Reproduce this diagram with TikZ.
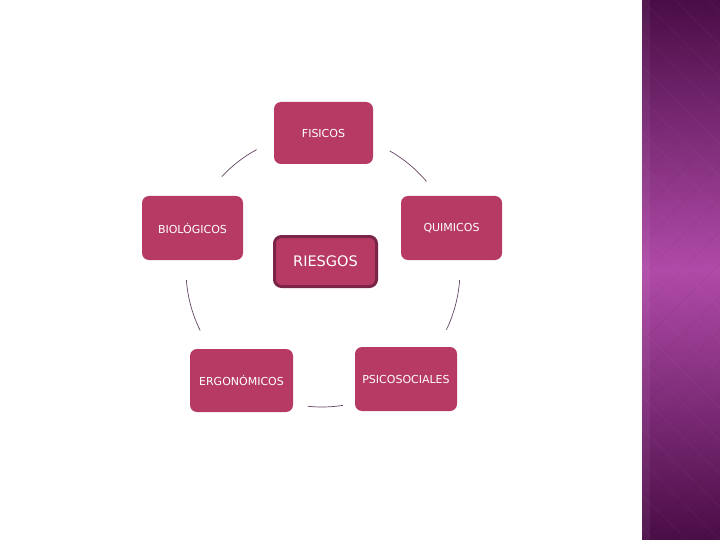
\documentclass[tikz,border=0pt]{standalone}
\usepackage{fontspec}
\setmainfont{DejaVu Sans}
\definecolor{boxc}{RGB}{183,58,100}
\definecolor{riesb}{RGB}{122,36,72}
\definecolor{arcc}{RGB}{100,70,100}
\definecolor{bandtop}{RGB}{74,13,70}
\definecolor{bandmid}{RGB}{176,74,168}
\begin{document}
\begin{tikzpicture}[x=1pt,y=-1pt,
  box/.style={rectangle, rounded corners=7pt, fill=boxc, text=white,
    minimum width=100pt, minimum height=63pt, inner sep=0pt,
    font=\fontsize{11}{13}\selectfont},
  arcline/.style={draw=arcc, line width=0.7pt}]
\useasboundingbox (0,0) rectangle (720,540);
\fill[white] (0,0) rectangle (720,540);
% side band
\shade[top color=bandtop, bottom color=bandtop, middle color=bandmid] (642,0) rectangle (720,540);
\begin{scope}
  \clip (642,0) rectangle (720,540);
  \foreach \i in {-18,...,3} {
    \draw[white, opacity=0.035, line width=0.8pt] (642+\i*33,0) -- ++(560,560);
    \draw[black, opacity=0.03, line width=0.8pt] (720-\i*33,0) -- ++(-560,560);
  }
  \fill[white, opacity=0.05] (642,0) rectangle (650,540);
\end{scope}
% nodes
\node[box, minimum width=99pt, minimum height=62pt] (fis) at (323.5,133) {FISICOS};
\node[box, minimum width=101pt, minimum height=64pt] (bio) at (192.5,228) {BIOLÓGICOS};
\node[box, minimum width=101pt, minimum height=64pt] (qui) at (451.5,228) {QUIMICOS};
\node[box, minimum width=103pt, minimum height=63pt] (erg) at (241.5,380.5) {ERGONÓMICOS};
\node[box, minimum width=102pt, minimum height=64pt] (psi) at (406,379) {PSICOSOCIALES};
\node[box, draw=riesb, line width=3pt, minimum width=102pt, minimum height=50pt,
  font=\fontsize{14.5}{16}\selectfont] (rie) at (325.5,261.5) {RIESGOS};
% cycle arcs (angles negated because the y axis points down)
\coordinate (c) at (322,270);
\draw[arcline] ([shift={(-118.5:137)}]c) arc[start angle=-118.5, end angle=-137, radius=137];
\draw[arcline] ([shift={(-60.4:137)}]c) arc[start angle=-60.4, end angle=-40.3, radius=137];
\draw[arcline] ([shift={(4.1:138)}]c) arc[start angle=4.1, end angle=25.6, radius=138];
\draw[arcline] ([shift={(-184.2:136)}]c) arc[start angle=-184.2, end angle=-206.4, radius=136];
\draw[arcline] ([shift={(-264:137)}]c) arc[start angle=-264, end angle=-278.8, radius=137];
\end{tikzpicture}
\end{document}
